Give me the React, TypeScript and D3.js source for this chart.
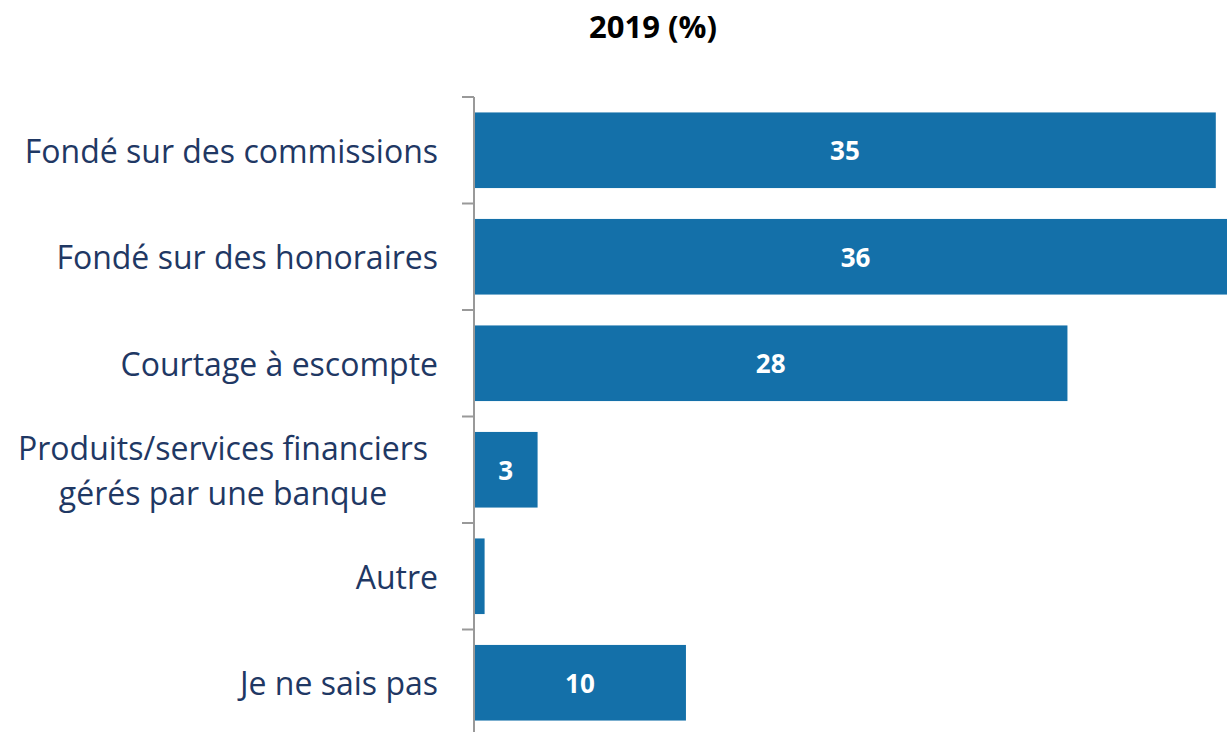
import React from "react";
import * as d3 from "d3";

const categories = [
  "Fondé sur des commissions",
  "Fondé sur des honoraires",
  "Courtage à escompte",
  "Produits/services financiers|gérés par une banque",
  "Autre",
  "Je ne sais pas",
];
const values = [35, 36, 28, 3, 0.5, 10];
const valueLabels = ["35", "36", "28", "3", "", "10"];
const title = "2019 (%)";

const width = 1227;
const height = 732;
const axisX = 474;
const font = "'Open Sans', sans-serif";

export default function App() {
  const x = d3.scaleLinear().domain([0, 36]).range([0, 763]);
  const y = d3
    .scaleBand<string>()
    .domain(categories)
    .range([97, 736])
    .paddingInner(0.29)
    .paddingOuter(0.145);
  const step = y.step();
  const tickYs = d3.range(categories.length + 1).map((i) => 97 + i * step);

  return (
    <svg
      width={width}
      height={height}
      style={{ position: "absolute", left: 0, top: 0, background: "#fff" }}
    >
      <text
        x={653}
        y={26}
        textAnchor="middle"
        dominantBaseline="central"
        fontFamily={font}
        fontWeight="bold"
        fontSize={31}
        fill="#000"
      >
        {title}
      </text>

      {categories.map((c, i) => {
        const cy = (y(c) ?? 0) + y.bandwidth() / 2;
        const lines = c.split("|");
        return (
          <g key={c}>
            <rect
              x={axisX}
              y={y(c)}
              width={x(values[i])}
              height={y.bandwidth()}
              fill="#1470a9"
            />
            {valueLabels[i] && (
              <text
                x={axisX + x(values[i]) / 2}
                y={cy}
                textAnchor="middle"
                dominantBaseline="central"
                fontFamily={font}
                fontWeight="bold"
                fontSize={26}
                fill="#fff"
              >
                {valueLabels[i]}
              </text>
            )}
            {lines.length === 1 ? (
              <text
                x={438}
                y={cy}
                textAnchor="end"
                dominantBaseline="central"
                fontFamily={font}
                fontSize={32}
                fill="#1f3864"
              >
                {c}
              </text>
            ) : (
              lines.map((l, j) => (
                <text
                  key={l}
                  x={223}
                  y={cy + (j - (lines.length - 1) / 2) * 45}
                  textAnchor="middle"
                  dominantBaseline="central"
                  fontFamily={font}
                  fontSize={32}
                  fill="#1f3864"
                >
                  {l}
                </text>
              ))
            )}
          </g>
        );
      })}

      <line x1={axisX} x2={axisX} y1={97} y2={height} stroke="#999" strokeWidth={2} />
      {tickYs.map((t) => (
        <line key={t} x1={462} x2={axisX} y1={t} y2={t} stroke="#999" strokeWidth={2} />
      ))}
    </svg>
  );
}
